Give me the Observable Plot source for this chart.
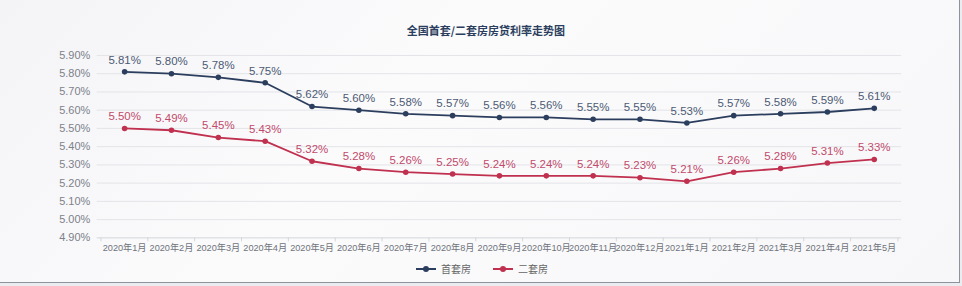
<!DOCTYPE html>
<html>
<head>
<meta charset="utf-8">
<script src="https://cdn.jsdelivr.net/npm/d3@7"></script>
<script src="https://cdn.jsdelivr.net/npm/@observablehq/plot@0.6"></script>
<style>
  html, body { margin: 0; padding: 0; background: #ebecef; }
  #wrap { position: relative; width: 959px; height: 282px; background: linear-gradient(135deg, #f4f4f7 0%, #fbfbfc 40%, #f7f7f9 100%); border-right: 1px solid #8d939c; border-bottom: 1px solid #8d939c; overflow: hidden; font-family: "Noto Sans CJK SC", "Liberation Sans", sans-serif; }
  #title { position: absolute; left: 0; width: 962px; top: 22px; text-align: center; font-size: 11px; font-weight: bold; color: #2c3e5e; padding-left: 10px; box-sizing: border-box; }
  #chart { position: absolute; left: 0; top: 40px; }
  #legend { position: absolute; top: 261px; left: 0; width: 962px; font-size: 10px; color: #666; }
  .item { position: absolute; display: flex; align-items: center; }
  .sw { position: relative; width: 20px; height: 2px; margin-right: 5px; }
  .sw::after { content: ""; position: absolute; left: 7px; top: -2px; width: 6px; height: 6px; border-radius: 3px; background: inherit; }
</style>
</head>
<body>
<div id="wrap">
  <div id="title">全国首套/二套房房贷利率走势图</div>
  <div id="chart"></div>
  <div id="legend"></div>
</div>
<script>
const months = ["2020年1月","2020年2月","2020年3月","2020年4月","2020年5月","2020年6月","2020年7月","2020年8月","2020年9月","2020年10月","2020年11月","2020年12月","2021年1月","2021年2月","2021年3月","2021年4月","2021年5月"];
const firstHome = [5.81,5.80,5.78,5.75,5.62,5.60,5.58,5.57,5.56,5.56,5.55,5.55,5.53,5.57,5.58,5.59,5.61];
const secondHome = [5.50,5.49,5.45,5.43,5.32,5.28,5.26,5.25,5.24,5.24,5.24,5.23,5.21,5.26,5.28,5.31,5.33];
const seriesNames = ["首套房","二套房"];
const yTicks = [4.9,5.0,5.1,5.2,5.3,5.4,5.5,5.6,5.7,5.8,5.9];

const lineColors = ["#2c3e5e","#c0304f"];
const labelColors = ["#4d5a74","#c24a6b"];

const data = [];
months.forEach((m, i) => {
  data.push({month: m, value: firstHome[i], series: seriesNames[0]});
  data.push({month: m, value: secondHome[i], series: seriesNames[1]});
});

const W = 962, mL = 97, mR = 58;
const half = (W - mL - mR) / months.length / 2;

const plot = Plot.plot({
  width: W,
  height: 218,
  marginLeft: mL,
  marginRight: mR,
  marginTop: 15,
  marginBottom: 20,
  style: {background: "transparent", fontFamily: "'Liberation Sans', 'Noto Sans CJK SC', sans-serif"},
  x: {type: "band", domain: months, padding: 0, label: null},
  y: {domain: [4.9, 5.9], label: null},
  color: {domain: seriesNames, range: lineColors},
  marks: [
    Plot.gridY(yTicks.slice(1), {stroke: "#e3e4e8", strokeOpacity: 1}),
    Plot.ruleY([4.9], {stroke: "#d4d6da"}),
    Plot.axisY(yTicks, {tickSize: 0, tickPadding: 7, tickFormat: d => d.toFixed(2) + "%", fontSize: 11, fill: "#7d8189"}),
    Plot.axisX(months, {tickSize: 4, stroke: "#d4d6da", dx: -half, tickFormat: () => ""}),
    Plot.axisX(months.slice(-1), {tickSize: 4, stroke: "#d4d6da", dx: half, tickFormat: () => ""}),
    Plot.axisX(months, {tickSize: 0, tickPadding: 7, fontSize: 9.2, fill: "#6f737b"}),
    Plot.line(data, {x: "month", y: "value", z: "series", stroke: "series", strokeWidth: 1.8}),
    Plot.dot(data, {x: "month", y: "value", fill: "series", r: 2.8}),
    Plot.text(data, {x: "month", y: "value", text: d => d.value.toFixed(2) + "%", dy: -12, fontSize: 11.5,
      fill: d => labelColors[seriesNames.indexOf(d.series)]})
  ]
});
document.getElementById("chart").append(plot);

const legend = document.getElementById("legend");
const legendX = [416, 493];
seriesNames.forEach((name, i) => {
  const item = document.createElement("div");
  item.className = "item";
  item.style.left = legendX[i] + "px";
  const sw = document.createElement("span");
  sw.className = "sw";
  sw.style.background = lineColors[i];
  const t = document.createElement("span");
  t.textContent = name;
  item.append(sw, t);
  legend.append(item);
});
</script>
</body>
</html>
